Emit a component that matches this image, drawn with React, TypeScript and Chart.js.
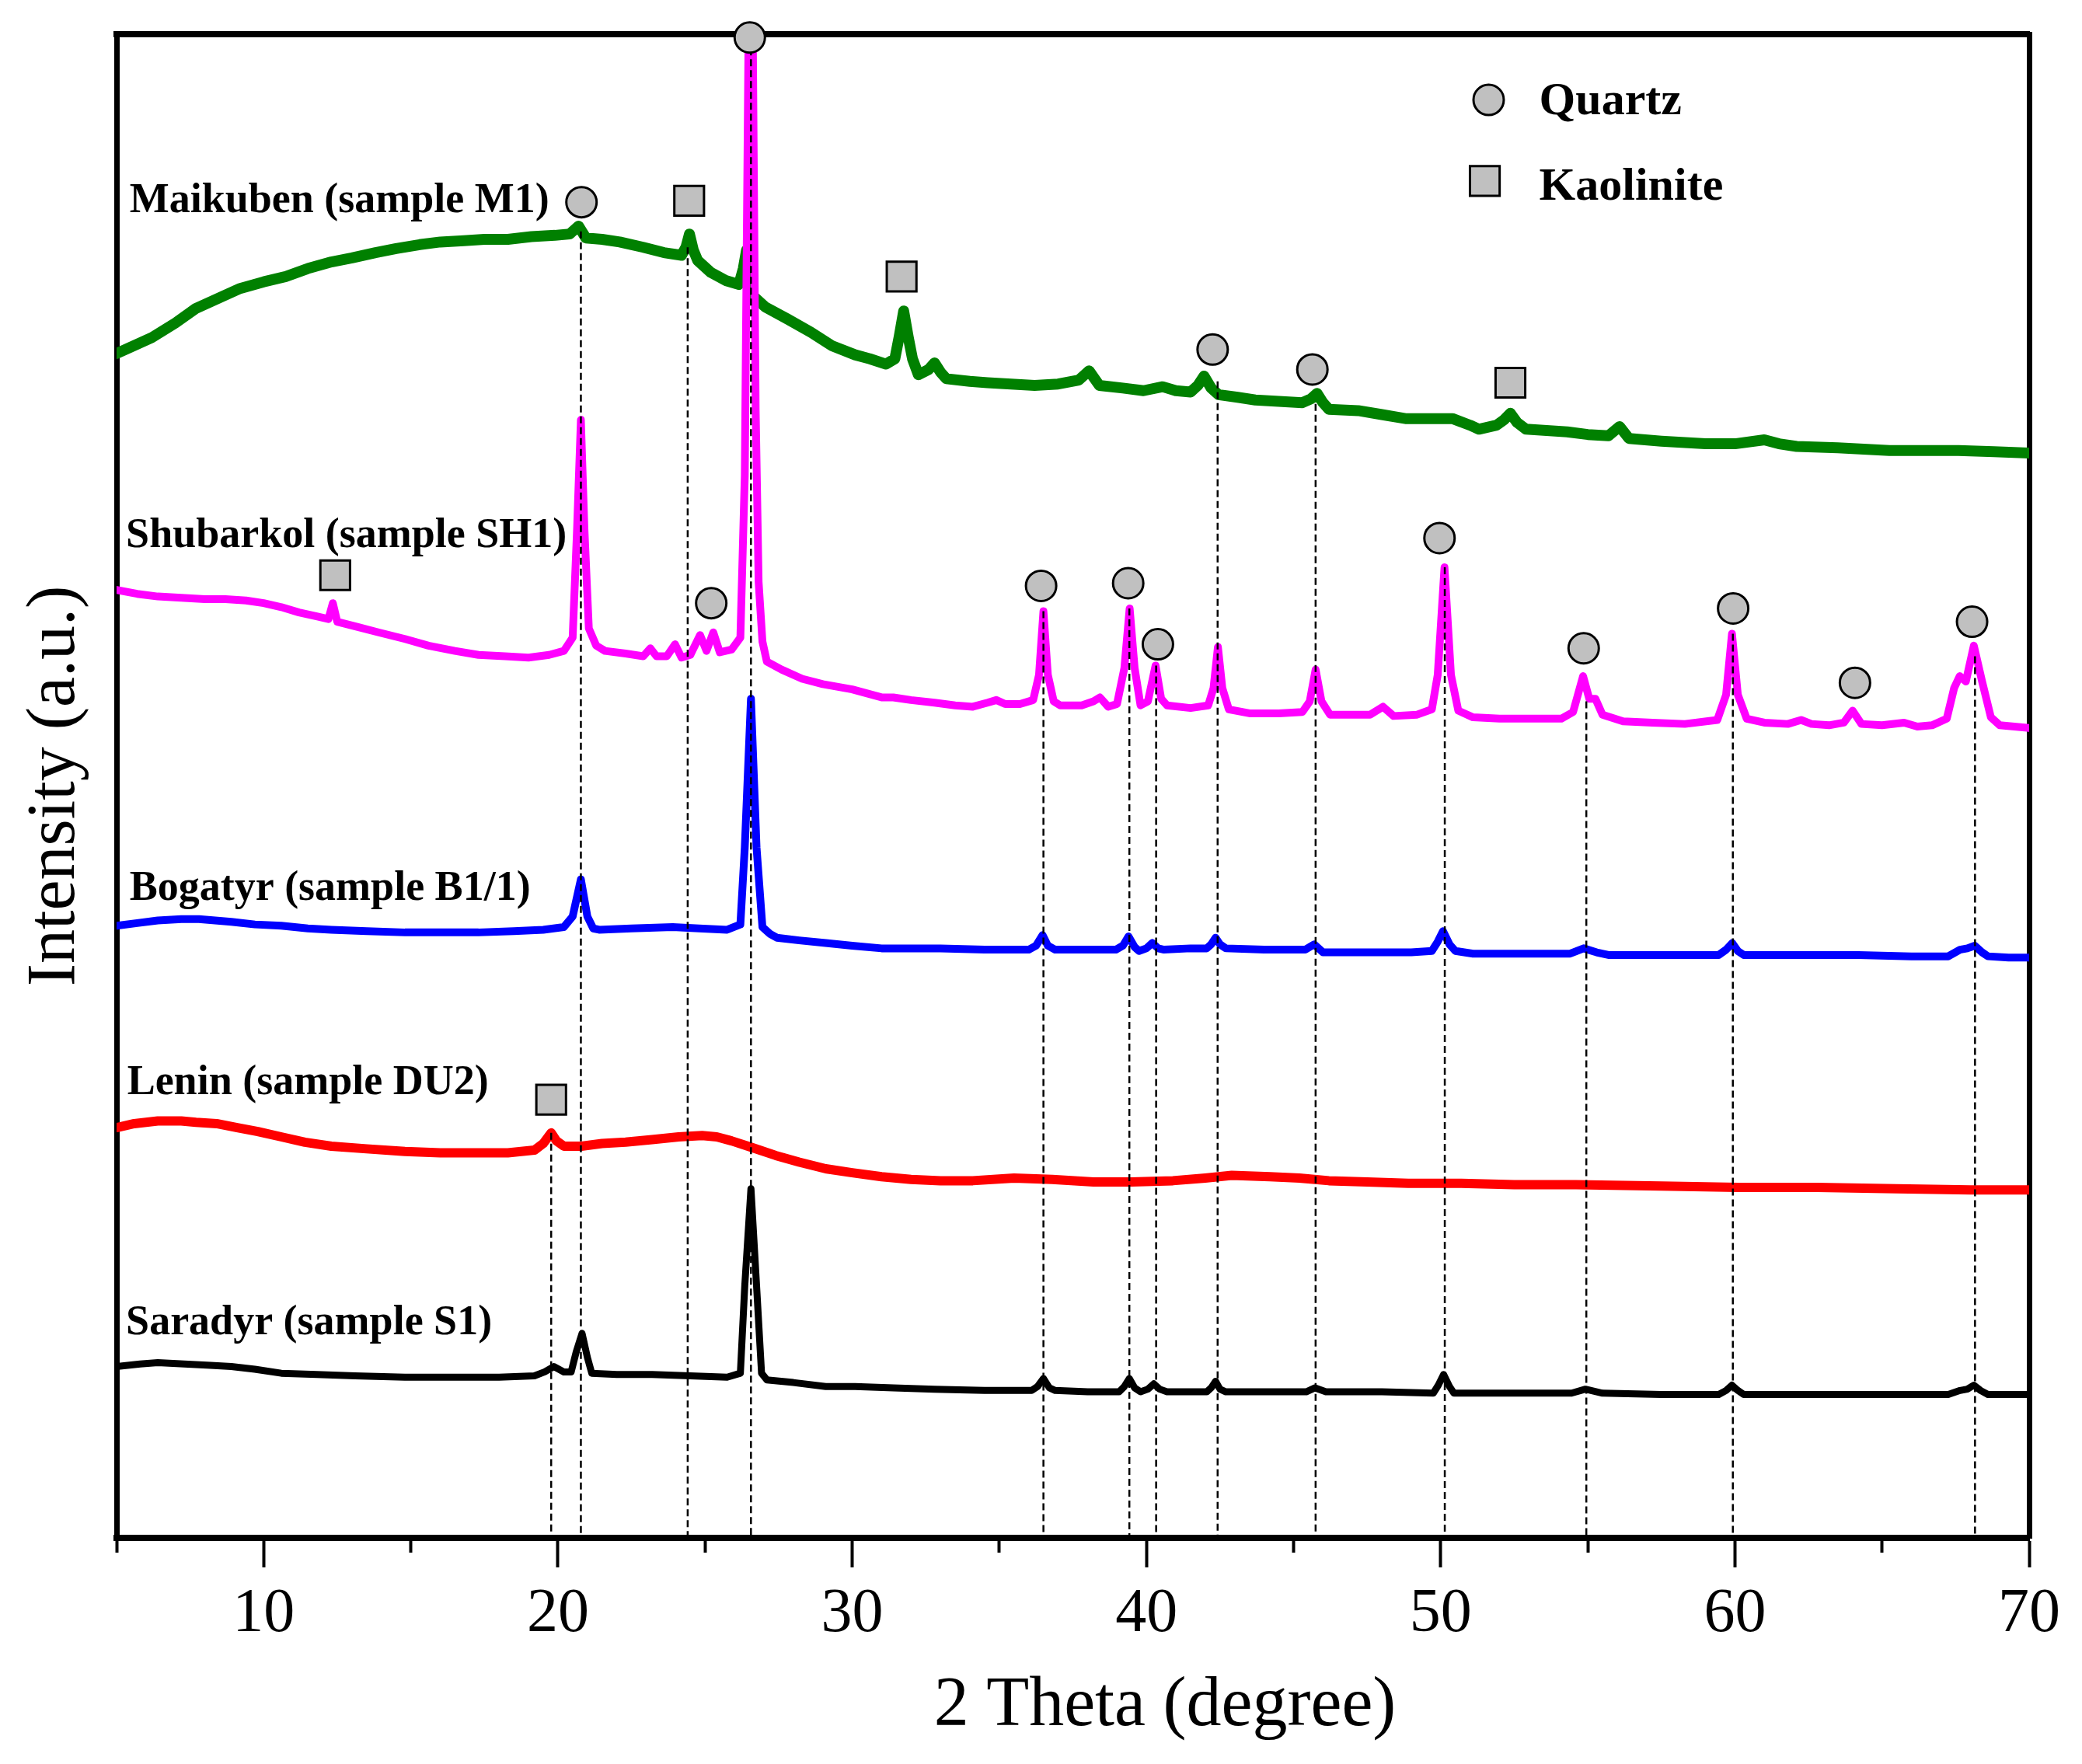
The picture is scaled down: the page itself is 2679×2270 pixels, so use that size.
import { useEffect, useRef } from 'react';
import { Chart, registerables } from 'chart.js';

Chart.register(...registerables);

const W = 2679;
const H = 2270;
const SERIF = '"Liberation Serif", "Times New Roman", Times, serif';

// x axis ticks (2 Theta, degree)
const MAJOR_TICKS = [10, 20, 30, 40, 50, 60, 70];
const MINOR_TICKS = [5, 15, 25, 35, 45, 55, 65];

// [2theta, intensity (a.u., offset patterns)]
const MAIKUBEN: [number, number][] = [
  [5.0, 892], [5.5, 897], [6.2, 904], [7.0, 915], [7.7, 926], [8.5, 934], [9.2, 941], [10.0, 946],
  [10.75, 950], [11.5, 956], [12.3, 961], [13.0, 964], [13.8, 968], [14.5, 971], [15.3, 974], [16.0, 976],
  [16.8, 977], [17.5, 978], [18.3, 978], [19.1, 980], [19.9, 981], [20.4, 982], [20.7, 988], [20.95, 979],
  [21.5, 978], [22.1, 976], [22.9, 972], [23.6, 968], [24.2, 966], [24.35, 972], [24.47, 982], [24.6, 970],
  [24.75, 962], [25.2, 953], [25.7, 947], [26.15, 944], [26.3, 956], [26.41, 970], [26.52, 950], [26.65, 935],
  [27.05, 927], [27.8, 918], [28.6, 908], [29.3, 898], [30.1, 891], [30.6, 888], [31.15, 884], [31.45, 888],
  [31.6, 905], [31.75, 924], [31.9, 905], [32.05, 888], [32.25, 876], [32.6, 880], [32.8, 885], [33.0, 878],
  [33.2, 873], [34.0, 871], [34.6, 870], [35.4, 869], [36.2, 868], [37.0, 869], [37.7, 872], [38.05, 879],
  [38.4, 868], [39.2, 866], [39.9, 864], [40.55, 867], [41.0, 864], [41.5, 863], [41.75, 868], [41.96, 875],
  [42.2, 866], [42.45, 861], [43.1, 859], [43.7, 857], [44.5, 856], [45.3, 855], [45.6, 858], [45.8, 862],
  [46.0, 855], [46.2, 850], [47.2, 849], [48.0, 846], [48.8, 843], [49.6, 843], [50.4, 843], [51.0, 838],
  [51.3, 835], [51.9, 838], [52.15, 842], [52.37, 847], [52.6, 840], [52.9, 835], [53.6, 834], [54.3, 833],
  [55.0, 831], [55.7, 830], [56.08, 837], [56.4, 828], [57.5, 826], [59.0, 824], [60.0, 824], [61.0, 827],
  [61.5, 824], [62.1, 822], [63.5, 821], [65.25, 819], [66.5, 819], [67.6, 819], [68.8, 818], [70.0, 817],
];

const SHUBARKOL: [number, number][] = [
  [5.0, 714], [5.7, 711], [6.4, 709], [7.2, 708], [8.0, 707], [8.7, 707], [9.4, 706], [10.0, 704],
  [10.6, 701], [11.2, 697], [11.8, 694], [12.2, 692], [12.35, 704], [12.5, 690], [13.2, 686], [13.9, 682],
  [14.8, 677], [15.6, 672], [16.5, 668], [17.3, 665], [18.2, 664], [19.0, 663], [19.7, 665], [20.2, 668],
  [20.5, 678], [20.65, 760], [20.78, 842], [20.9, 760], [21.05, 685], [21.3, 672], [21.6, 668], [22.3, 666],
  [22.9, 664], [23.14, 670], [23.35, 664], [23.7, 664], [23.98, 673], [24.2, 663], [24.5, 665], [24.83, 680],
  [25.05, 668], [25.28, 682], [25.5, 667], [25.9, 669], [26.2, 678], [26.35, 800], [26.48, 1140], [26.62, 1140],
  [26.72, 850], [26.82, 720], [26.95, 675], [27.1, 660], [27.6, 654], [28.3, 647], [29.0, 643], [30.0, 639],
  [31.0, 633], [31.4, 633], [32.0, 631], [32.8, 629], [33.5, 627], [34.1, 626], [34.6, 629], [34.9, 631],
  [35.2, 628], [35.7, 628], [36.15, 631], [36.35, 650], [36.5, 698], [36.65, 650], [36.85, 630], [37.07, 627],
  [37.8, 627], [38.2, 630], [38.42, 633], [38.7, 626], [39.0, 628], [39.25, 655], [39.43, 700], [39.6, 655],
  [39.8, 627], [40.05, 630], [40.31, 657], [40.5, 632], [40.7, 627], [41.5, 625], [42.1, 627], [42.28, 640],
  [42.43, 671], [42.58, 640], [42.8, 624], [43.5, 621], [44.5, 621], [45.3, 622], [45.55, 630], [45.75, 654],
  [45.95, 630], [46.24, 620], [47.0, 620], [47.6, 620], [48.04, 626], [48.4, 619], [49.2, 620], [49.7, 624],
  [49.9, 650], [50.13, 731], [50.35, 650], [50.6, 623], [51.1, 618], [52.0, 617], [53.0, 617], [54.1, 617],
  [54.5, 622], [54.84, 649], [55.05, 632], [55.26, 632], [55.5, 620], [56.2, 615], [57.2, 614], [58.3, 613],
  [59.4, 616], [59.7, 635], [59.9, 681], [60.1, 635], [60.4, 617], [61.0, 614], [61.8, 613], [62.25, 616],
  [62.6, 613], [63.2, 612], [63.7, 614], [64.0, 623], [64.3, 613], [65.0, 612], [65.75, 614], [66.2, 611],
  [66.7, 612], [67.2, 617], [67.45, 640], [67.64, 649], [67.85, 645], [68.12, 672], [68.4, 645], [68.7, 618],
  [69.0, 612], [70.0, 610],
];

const BOGATYR: [number, number][] = [
  [5.0, 461], [5.7, 463], [6.4, 465], [7.2, 466], [7.8, 466], [8.9, 464], [9.7, 462], [10.6, 461],
  [11.5, 459], [12.3, 458], [13.5, 457], [14.8, 456], [16.0, 456], [17.3, 456], [18.5, 457], [19.5, 458],
  [20.2, 460], [20.5, 468], [20.78, 496], [21.0, 468], [21.2, 459], [21.4, 458], [22.5, 459], [23.9, 460],
  [24.8, 459], [25.75, 458], [26.2, 462], [26.35, 520], [26.56, 632], [26.75, 520], [26.95, 460], [27.2, 455],
  [27.44, 452], [28.2, 450], [29.1, 448], [30.0, 446], [31.0, 444], [32.0, 444], [33.0, 444], [34.5, 443],
  [36.0, 443], [36.25, 446], [36.47, 454], [36.65, 446], [36.9, 443], [38.0, 443], [38.96, 443], [39.2, 446],
  [39.39, 453], [39.6, 445], [39.75, 442], [40.0, 444], [40.2, 448], [40.4, 444], [40.6, 443], [41.5, 444],
  [42.05, 444], [42.2, 447], [42.35, 452], [42.5, 447], [42.7, 444], [44.0, 443], [45.4, 443], [45.7, 447],
  [46.0, 441], [47.5, 441], [49.0, 441], [49.7, 442], [49.9, 449], [50.08, 457], [50.3, 447], [50.5, 442],
  [51.1, 440], [52.5, 440], [54.4, 440], [54.86, 444], [55.3, 441], [55.7, 439], [57.5, 439], [59.45, 439],
  [59.7, 443], [59.91, 448], [60.1, 442], [60.3, 439], [62.0, 439], [64.2, 439], [66.0, 438], [67.25, 438],
  [67.65, 443], [67.9, 444], [68.15, 446], [68.4, 441], [68.6, 438], [69.3, 437], [70.0, 437],
];

const LENIN: [number, number][] = [
  [5.0, 309], [5.6, 312], [6.4, 314], [7.2, 314], [7.7, 313], [8.4, 312], [9.1, 309], [9.8, 306],
  [10.6, 302], [11.4, 298], [12.3, 295], [13.5, 293], [14.8, 291], [16.0, 290], [17.3, 290], [18.3, 290],
  [19.2, 292], [19.5, 297], [19.77, 305], [19.95, 299], [20.2, 295], [20.8, 295], [21.5, 297], [22.3, 298],
  [23.2, 300], [24.1, 302], [24.9, 303], [25.4, 302], [25.9, 299], [26.6, 294], [27.4, 288], [28.2, 283],
  [29.1, 278], [30.0, 275], [31.0, 272], [32.0, 270], [33.0, 269], [34.1, 269], [35.5, 271], [36.8, 270],
  [38.2, 268], [39.5, 268], [40.9, 269], [42.0, 271], [42.9, 273], [44.2, 272], [45.2, 271], [46.2, 269],
  [47.5, 268], [48.9, 267], [50.7, 267], [52.5, 266], [54.6, 266], [57.5, 265], [60.1, 264], [62.8, 264],
  [65.5, 263], [68.0, 262], [70.0, 262],
];

const SARADYR: [number, number][] = [
  [5.0, 129], [5.8, 131], [6.4, 132], [7.3, 131], [8.2, 130], [8.9, 129], [9.7, 127], [10.6, 124],
  [11.8, 123], [13.1, 122], [14.8, 121], [16.5, 121], [18.0, 121], [19.2, 122], [19.55, 125], [19.86, 129],
  [20.2, 125], [20.45, 125], [20.62, 140], [20.82, 154], [21.0, 136], [21.15, 124], [22.0, 123], [23.2, 123],
  [24.5, 122], [25.75, 121], [26.2, 124], [26.35, 190], [26.56, 263], [26.75, 190], [26.92, 124], [27.1, 119],
  [28.0, 117], [29.1, 114], [30.1, 114], [31.4, 113], [32.8, 112], [34.5, 111], [36.1, 111], [36.3, 114],
  [36.5, 120], [36.7, 113], [36.9, 111], [38.0, 110], [39.07, 110], [39.25, 114], [39.42, 120], [39.6, 113],
  [39.8, 110], [40.05, 112], [40.25, 116], [40.45, 112], [40.7, 110], [42.05, 110], [42.2, 113], [42.35, 118],
  [42.5, 112], [42.7, 110], [44.0, 110], [45.43, 110], [45.73, 113], [46.1, 110], [48.0, 110], [49.75, 109],
  [49.92, 115], [50.1, 123], [50.3, 114], [50.45, 109], [52.0, 109], [54.45, 109], [54.92, 112], [55.5, 109],
  [57.5, 108], [59.45, 108], [59.7, 111], [59.9, 115], [60.1, 111], [60.3, 108], [62.5, 108], [65.0, 108],
  [67.25, 108], [67.65, 111], [67.9, 112], [68.12, 115], [68.35, 111], [68.6, 108], [69.3, 108], [70.0, 108],
];

// phase markers [2theta, intensity]
const QUARTZ_MARKS: [number, number][] = [
  [20.8, 1006], [26.52, 1130], [42.25, 895], [45.64, 880], [25.21, 704], [36.42, 717], [39.38, 719],
  [40.39, 673], [49.96, 753], [54.86, 670], [59.94, 700], [64.08, 644], [68.06, 690],
];
const KAOLINITE_MARKS: [number, number][] = [
  [24.46, 1007], [31.68, 950], [52.37, 870], [12.43, 725], [19.77, 330],
];
const LEGEND_QUARTZ: [number, number][] = [[51.63, 1083]];
const LEGEND_KAOLINITE: [number, number][] = [[51.5, 1022]];

// dashed reference lines [2theta, top intensity]
const DROP_LINES: [number, number][] = [
  [19.77, 305], [20.78, 984], [24.41, 972], [26.56, 1130], [36.5, 698], [39.42, 700], [40.33, 657],
  [42.42, 871], [45.75, 854], [50.14, 731], [54.95, 630], [59.93, 681], [68.16, 664],
];

const Y_MAX = 1132.5;

const SERIES = [
  { label: 'Maikuben (sample M1)', data: MAIKUBEN, color: '#008000', width: 14, order: 10 },
  { label: 'Shubarkol (sample SH1)', data: SHUBARKOL, color: '#ff00ff', width: 10, order: 9 },
  { label: 'Bogatyr (sample B1/1)', data: BOGATYR, color: '#0000ff', width: 10, order: 8 },
  { label: 'Lenin (sample DU2)', data: LENIN, color: '#ff0000', width: 12, order: 7 },
  { label: 'Saradyr (sample S1)', data: SARADYR, color: '#000000', width: 9, order: 6 },
];

// text anchors in data coordinates (left edge, baseline)
const SAMPLE_LABELS: { text: string; x: number; y: number }[] = [
  { text: 'Maikuben (sample M1)', x: 5.44, y: 998.7 },
  { text: 'Shubarkol (sample SH1)', x: 5.32, y: 746.3 },
  { text: 'Bogatyr (sample B1/1)', x: 5.44, y: 480.5 },
  { text: 'Lenin (sample DU2)', x: 5.36, y: 334.0 },
  { text: 'Saradyr (sample S1)', x: 5.32, y: 153.4 },
];
const LEGEND_LABELS: { text: string; x: number; y: number }[] = [
  { text: 'Quartz', x: 53.35, y: 1072.2 },
  { text: 'Kaolinite', x: 53.35, y: 1007.9 },
];

const toXY = (pts: [number, number][]) => pts.map(([x, y]) => ({ x, y }));

const textPlugin = {
  id: 'xrdText',
  afterDraw(chart: any) {
    const { ctx, chartArea } = chart;
    const xs = chart.scales.x;
    const ys = chart.scales.y;
    ctx.save();
    ctx.fillStyle = '#000';
    ctx.textAlign = 'left';
    ctx.textBaseline = 'alphabetic';
    ctx.font = `bold 54px ${SERIF}`;
    for (const l of SAMPLE_LABELS) {
      ctx.fillText(l.text, xs.getPixelForValue(l.x), ys.getPixelForValue(l.y));
    }
    ctx.font = `bold 60px ${SERIF}`;
    for (const l of LEGEND_LABELS) {
      ctx.fillText(l.text, xs.getPixelForValue(l.x), ys.getPixelForValue(l.y));
    }
    ctx.font = `90px ${SERIF}`;
    ctx.textAlign = 'center';
    ctx.fillText('2 Theta (degree)', xs.getPixelForValue(40.63), chartArea.bottom + 241);
    ctx.restore();
  },
};

function buildConfig(): any {
  const lineSets = SERIES.map((s) => ({
    label: s.label,
    data: toXY(s.data),
    borderColor: s.color,
    backgroundColor: s.color,
    borderWidth: s.width,
    borderJoinStyle: 'round',
    borderCapStyle: 'round',
    pointRadius: 0,
    tension: 0,
    fill: false,
    order: s.order,
    xAxisID: 'x',
    yAxisID: 'y',
  }));
  const dropSets = DROP_LINES.map(([deg, top]) => ({
    label: 'ref ' + deg,
    data: [{ x: deg, y: top }, { x: deg, y: 0 }],
    borderColor: '#000',
    borderWidth: 2.5,
    borderDash: [9, 5],
    pointRadius: 0,
    fill: false,
    order: 3,
    xAxisID: 'x',
    yAxisID: 'y',
  }));
  const marker = (label: string, pts: [number, number][], style: string, r: number) => ({
    label,
    data: toXY(pts),
    showLine: false,
    pointStyle: style,
    pointRadius: r,
    pointBackgroundColor: '#c0c0c0',
    pointBorderColor: '#000',
    pointBorderWidth: 3,
    clip: false,
    order: 1,
    xAxisID: 'x',
    yAxisID: 'y',
  });
  const markerSets = [
    marker('Quartz', QUARTZ_MARKS, 'circle', 19.5),
    marker('Kaolinite', KAOLINITE_MARKS, 'rect', 27),
    marker('Quartz legend', LEGEND_QUARTZ, 'circle', 19.5),
    marker('Kaolinite legend', LEGEND_KAOLINITE, 'rect', 27),
  ];

  return {
    type: 'line',
    data: { datasets: [...markerSets, ...dropSets, ...lineSets] },
    plugins: [textPlugin],
    options: {
      responsive: false,
      maintainAspectRatio: false,
      devicePixelRatio: 1,
      animation: false,
      events: [],
      layout: { padding: 0 },
      plugins: { legend: { display: false }, tooltip: { enabled: false }, title: { display: false } },
      scales: {
        x: {
          type: 'linear',
          position: 'bottom',
          min: 5,
          max: 70,
          weight: 1,
          afterBuildTicks: (s: any) => {
            s.ticks = MAJOR_TICKS.map((v) => ({ value: v }));
          },
          afterFit: (s: any) => {
            s.height = H - 1979;
          },
          ticks: {
            autoSkip: false,
            maxRotation: 0,
            minRotation: 0,
            padding: 13,
            color: '#000',
            font: { family: SERIF, size: 80, lineHeight: 1.2 },
            callback: (v: any) => String(v),
          },
          grid: { display: true, drawOnChartArea: false, drawTicks: true, tickLength: 38, tickWidth: 4, tickColor: '#000' },
          border: { display: true, color: '#000', width: 8 },
        },
        xMinor: {
          type: 'linear',
          position: 'bottom',
          min: 5,
          max: 70,
          weight: 0,
          afterBuildTicks: (s: any) => {
            s.ticks = MINOR_TICKS.map((v) => ({ value: v }));
          },
          afterFit: (s: any) => {
            s.height = 0;
          },
          ticks: { display: false },
          grid: { display: true, drawOnChartArea: false, drawTicks: true, tickLength: 19, tickWidth: 4, tickColor: '#000' },
          border: { display: false },
        },
        xTop: {
          type: 'linear',
          position: 'top',
          min: 5,
          max: 70,
          afterFit: (s: any) => {
            s.height = 44;
          },
          ticks: { display: false },
          grid: { display: false },
          border: { display: true, color: '#000', width: 8 },
        },
        y: {
          type: 'linear',
          position: 'left',
          min: 0,
          max: Y_MAX,
          afterFit: (s: any) => {
            s.width = 150;
          },
          ticks: { display: false },
          grid: { display: false },
          border: { display: true, color: '#000', width: 7 },
          title: {
            display: true,
            text: 'Intensity (a.u.)',
            color: '#000',
            font: { family: SERIF, size: 88, lineHeight: 1.2 },
            padding: { top: 19, bottom: 0 },
          },
        },
        yRight: {
          type: 'linear',
          position: 'right',
          min: 0,
          max: Y_MAX,
          afterFit: (s: any) => {
            s.width = W - 2611;
          },
          ticks: { display: false },
          grid: { display: false },
          border: { display: true, color: '#000', width: 7 },
        },
      },
    },
  };
}

export default function App() {
  const ref = useRef<HTMLCanvasElement>(null);
  useEffect(() => {
    let chart: Chart | null = null;
    let cancelled = false;
    const loads = [
      `bold 54px "Liberation Serif"`,
      `bold 60px "Liberation Serif"`,
      `80px "Liberation Serif"`,
      `90px "Liberation Serif"`,
    ].map((f) => (document as any).fonts?.load ? (document as any).fonts.load(f) : Promise.resolve());
    Promise.all(loads)
      .catch(() => undefined)
      .then(() => {
        if (cancelled || !ref.current) return;
        chart = new Chart(ref.current, buildConfig());
      });
    return () => {
      cancelled = true;
      if (chart) chart.destroy();
    };
  }, []);
  return (
    <div style={{ position: 'absolute', left: 0, top: 0, width: W, height: H, background: '#fff', overflow: 'hidden' }}>
      <canvas ref={ref} width={W} height={H} style={{ width: W, height: H, display: 'block' }} />
    </div>
  );
}
